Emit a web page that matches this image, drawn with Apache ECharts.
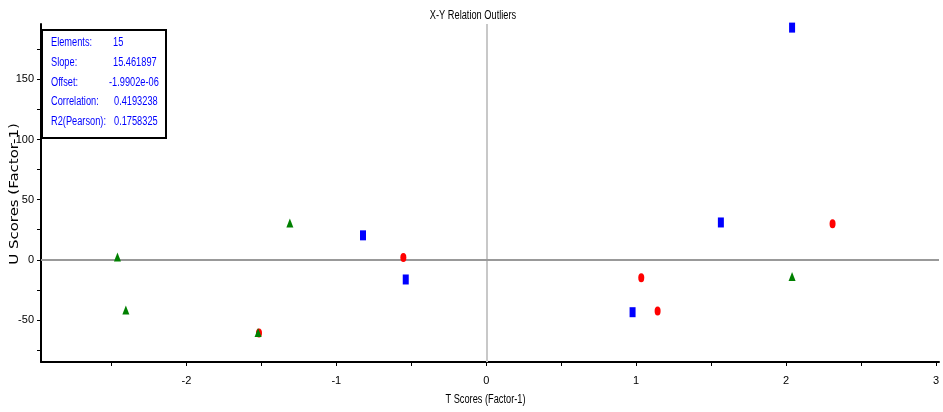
<!DOCTYPE html>
<html>
<head>
<meta charset="utf-8">
<script src="https://cdn.jsdelivr.net/npm/echarts@6/dist/echarts.min.js"></script>
<style>html,body{margin:0;padding:0;background:#fff}#c{width:943px;height:412px}</style>
</head>
<body>
<div id="c"></div>
<script>
// ---- data ----
var blueX = [2.04, 1.565, -0.822, -0.537, 0.976];
var blueY = [193, 31, 20.3, -16.4, -43.6];
var redX = [-0.553, 1.034, 1.143, 2.31, -1.516];
var redY = [1.9, -15, -42.5, 30, -60.8];
var greenX = [-2.46, -2.404, -1.31, -1.522, 2.04];
var greenY = [2.2, -41.7, 30.6, -60.5, -14];

var xTicks = [-2.5, -2, -1.5, -1, -0.5, 0, 0.5, 1, 1.5, 2, 2.5, 3];
var xLabels = [-2, -1, 0, 1, 2, 3];
var yTicks = [-75, -50, -25, 0, 25, 50, 75, 100, 125, 150, 175];
var yLabels = [-50, 0, 50, 100, 150];

var statNames = ['Elements:', 'Slope:', 'Offset:', 'Correlation:', 'R2(Pearson):'];
var statValues = ['15', '15.461897', '-1.9902e-06', '0.4193238', '0.1758325'];

var chartTitle = 'X-Y Relation Outliers';
var xName = 'T Scores (Factor-1)';
var yName = 'U Scores (Factor-1)';

function pairs(xs, ys) { return xs.map(function (x, i) { return [x, ys[i]]; }); }

var SANS = "'Liberation Sans', Arial, sans-serif";
var NARROW_SCALE = 0.77;

var chart = echarts.init(document.getElementById('c'), null, { renderer: 'canvas' });

var graphics = [
  { // chart title
    type: 'text', x: 473, y: 15.5, scaleX: NARROW_SCALE,
    style: { text: chartTitle, align: 'center', verticalAlign: 'middle',
      font: '12px ' + SANS, fill: '#000' }
  },
  { // x axis name
    type: 'text', x: 485.5, y: 399.5, scaleX: NARROW_SCALE,
    style: { text: xName, align: 'center', verticalAlign: 'middle',
      font: '12px ' + SANS, fill: '#000' }
  },
  { // y axis name
    type: 'text', x: 15, y: 194, rotation: Math.PI / 2, scaleX: 1.15,
    style: { text: yName, align: 'center', verticalAlign: 'middle',
      font: "13px 'DejaVu Sans', sans-serif", fill: '#000' }
  },
  { // statistics box
    type: 'rect', z: 100,
    shape: { x: 42, y: 30, width: 124, height: 108 },
    style: { fill: '#fff', stroke: '#000', lineWidth: 2 }
  }
];
var rowY = [43, 63, 82.5, 102, 122];
var valX = [113, 113, 109, 114, 114];
statNames.forEach(function (n, i) {
  graphics.push({
    type: 'text', z: 101, x: 51, y: rowY[i], scaleX: NARROW_SCALE,
    style: { text: n, align: 'left', verticalAlign: 'middle',
      font: '12px ' + SANS, fill: '#0000ff' }
  });
  graphics.push({
    type: 'text', z: 101, x: valX[i], y: rowY[i], scaleX: NARROW_SCALE,
    style: { text: statValues[i], align: 'left', verticalAlign: 'middle',
      font: '12px ' + SANS, fill: '#0000ff' }
  });
});

var option = {
  animation: false,
  backgroundColor: '#fff',
  grid: { left: 41, right: 4, top: 24, bottom: 50, containLabel: false, outerBoundsMode: 'none' },
  xAxis: {
    type: 'value', min: -2.97, max: 3.02,
    axisLine: { show: true, onZero: false, lineStyle: { color: '#000', width: 2 } },
    axisTick: { show: true, customValues: xTicks, length: 4, lineStyle: { color: '#000', width: 1 } },
    axisLabel: { customValues: xLabels, margin: 13, fontFamily: SANS, fontSize: 11, color: '#000' },
    splitLine: { show: false }
  },
  yAxis: {
    type: 'value', min: -85, max: 196,
    axisLine: { show: true, onZero: false, lineStyle: { color: '#000', width: 2 } },
    axisTick: { show: true, customValues: yTicks, length: 4, lineStyle: { color: '#000', width: 1 } },
    axisLabel: { customValues: yLabels, margin: 7, fontFamily: SANS, fontSize: 11, color: '#000' },
    splitLine: { show: false }
  },
  series: [
    {
      type: 'scatter', name: 'blue', symbol: 'rect', symbolSize: [6, 10],
      itemStyle: { color: '#0000ff', opacity: 1 },
      data: pairs(blueX, blueY),
      z: 3,
      markLine: {
        silent: true, symbol: 'none', label: { show: false }, z: 1,
        data: [
          { xAxis: 0, lineStyle: { color: '#c8c8c8', width: 2, type: 'solid' } },
          { yAxis: 0, lineStyle: { color: '#999999', width: 2, type: 'solid' } }
        ]
      }
    },
    {
      type: 'scatter', name: 'red', symbol: 'circle', symbolSize: [6, 9],
      itemStyle: { color: '#ff0000', opacity: 1 },
      data: pairs(redX, redY), z: 4
    },
    {
      type: 'scatter', name: 'green', symbol: 'triangle', symbolSize: [7, 9],
      itemStyle: { color: '#008000', opacity: 1 },
      data: pairs(greenX, greenY), z: 5
    }
  ],
  graphic: graphics
};
chart.setOption(option);
</script>
</body>
</html>
